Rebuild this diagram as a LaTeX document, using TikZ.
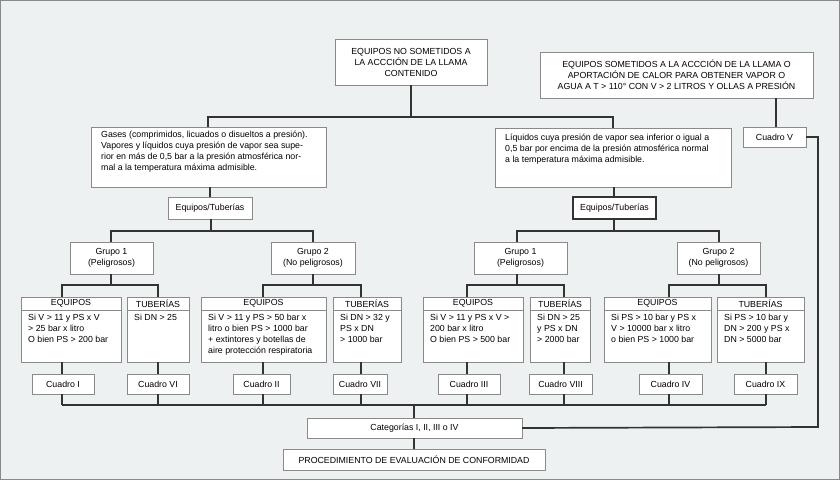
\documentclass[tikz,border=0pt]{standalone}
\usepackage{fontspec}
\setmainfont{Liberation Sans}
\begin{document}
\definecolor{bg}{HTML}{EEF1F1}
\definecolor{bd}{HTML}{8A8A8A}
\definecolor{ln}{HTML}{333333}
\newcommand{\bx}[6][]{\node[box,#1,minimum width={(#4-#2)*1pt},minimum height={(#5-#3)*1pt}] (#6) at ({(#2+#4)/2},{(#3+#5)/2}) {};}
\begin{tikzpicture}[x=1pt,y=-1pt,
  box/.style={draw=bd,fill=white,line width=0.8pt,inner sep=0pt,outer sep=0pt},
  txt/.style={font=\fontsize{8.8}{11}\selectfont,inner sep=0pt,align=center},
  ltxt/.style={font=\fontsize{8.8}{11}\selectfont,inner sep=0pt,align=left,anchor=north west},
  con/.style={draw=ln,line width=1.7pt}]
\path[fill=bg,draw=bd,line width=0.8pt] (0.5,0.5) rectangle (839.5,479.5);
\useasboundingbox (0,0) rectangle (840,480);
% top boxes
\bx{335}{39}{487}{85}{top}
\node[txt] (topt) at (top) {EQUIPOS NO SOMETIDOS A\\LA ACCCIÓN DE LA LLAMA\\CONTENIDO};
\bx{540}{52}{813}{98}{rtop}
\node[txt] (rtopt) at (rtop) {EQUIPOS SOMETIDOS A LA ACCCIÓN DE LA LLAMA O\\APORTACIÓN DE CALOR PARA OBTENER VAPOR O\\AGUA A T > 110° CON V > 2 LITROS Y OLLAS A PRESIÓN};
\bx{743}{127}{806}{147}{c5}
\node[txt] (c5t) at (c5) {Cuadro V};
\bx{91}{127}{326}{187}{gas}
\node[ltxt] (gast) at (101,131) {Gases (comprimidos, licuados o disueltos a presión).\\Vapores y líquidos cuya presión de vapor sea supe-\\rior en más de 0,5 bar a la presión atmosférica nor-\\mal a la temperatura máxima admisible.};
\bx{495}{128}{731}{187}{liq}
\node[ltxt] (liqt) at (505,134) {Líquidos cuya presión de vapor sea inferior o igual a\\0,5 bar por encima de la presión atmosférica normal\\a la temperatura máxima admisible.};
\bx{168}{197}{252}{219}{etl}
\node[txt] (etlt) at (etl) {Equipos/Tuberías};
\bx[draw=ln,line width=1.3pt]{573}{197}{656}{219}{etr}
\node[txt] (etrt) at (etr) {Equipos/Tuberías};
% grupos
\bx{70}{242}{153}{274}{g1l}\node[txt] at (g1l) {Grupo 1\\(Peligrosos)};
\bx{271}{242}{355}{274}{g2l}\node[txt] at (g2l) {Grupo 2\\(No peligrosos)};
\bx{474}{242}{567}{274}{g1r}\node[txt] at (g1r) {Grupo 1\\(Peligrosos)};
\bx{677}{242}{760}{274}{g2r}\node[txt] at (g2r) {Grupo 2\\(No peligrosos)};
% tables
\newcommand{\cell}[6]{\bx{#1}{297}{#2}{310}{#3h}\node[txt] at (#3h) {#4};
 \bx{#1}{310}{#2}{362}{#3b}\node[ltxt] (#3t) at ({#1+7},314) {#5};
 \coordinate (#3c) at (#6,297);}
\cell{21}{121}{e1}{EQUIPOS}{Si V > 11 y PS x V\\> 25 bar x litro\\O bien PS > 200 bar}{62}
\cell{127}{189}{t1}{TUBERÍAS}{Si DN > 25}{158}
\cell{201}{326}{e2}{EQUIPOS}{Si V > 11 y PS > 50 bar x\\litro o bien PS > 1000 bar\\+ extintores y botellas de\\aire protección respiratoria}{263}
\cell{333}{401}{t2}{TUBERÍAS}{Si DN > 32 y\\PS x DN\\> 1000 bar}{361}
\cell{423}{523}{e3}{EQUIPOS}{Si V > 11 y PS x V >\\200 bar x litro\\O bien PS > 500 bar}{467}
\cell{530}{590}{t3}{TUBERÍAS}{Si DN > 25\\y PS x DN\\> 2000 bar}{564}
\cell{604}{711}{e4}{EQUIPOS}{Si PS > 10 bar y PS x\\V > 10000 bar x litro\\o bien PS > 1000 bar}{669}
\cell{717}{804}{t4}{TUBERÍAS}{Si PS > 10 bar y\\DN > 200 y PS x\\DN > 5000 bar}{766}
% cuadros
\newcommand{\cua}[4]{\bx{#1}{374}{#2}{394}{#3}\node[txt] at (#3) {#4};}
\cua{32}{94}{q1}{Cuadro I}
\cua{127}{189}{q6}{Cuadro VI}
\cua{233}{290}{q2}{Cuadro II}
\cua{333}{387}{q7}{Cuadro VII}
\cua{438}{500}{q3}{Cuadro III}
\cua{529}{592}{q8}{Cuadro VIII}
\cua{639}{702}{q4}{Cuadro IV}
\cua{734}{797}{q9}{Cuadro IX}
\bx{307}{418}{522}{438}{cat}\node[txt] at (cat) {Categorías I, II, III o IV};
\bx{283}{449}{545}{470}{proc}\node[txt] at (proc) {PROCEDIMIENTO DE EVALUACIÓN DE CONFORMIDAD};
% connectors
\draw[con] (top.south) -- (411,117) -| (gas.north -| 208,0);
\draw[con] (411,117) -| (liq.north -| 613,0);
\draw[con] (rtop.south -| 776,0) -- (c5.north -| 776,0);
\draw[con] (gas.south -| 210,0) -- (etl.north -| 210,0);
\draw[con] (liq.south -| 614,0) -- (etr.north -| 614,0);
\draw[con] (etl.south -| 211,0) -- (211,231);
\draw[con] (g1l.north -| 111,0) -- (111,231) -- (313,231) -- (g2l.north -| 313,0);
\draw[con] (etr.south -| 614,0) -- (614,231);
\draw[con] (g1r.north -| 517,0) -- (517,231) -- (719,231) -- (g2r.north -| 719,0);
% grupos to tables
\draw[con] (g1l.south -| 111,0) -- (111,285);
\draw[con] (e1c) -- (62,285) -- (158,285) -- (t1c);
\draw[con] (g2l.south -| 313,0) -- (313,285);
\draw[con] (e2c) -- (263,285) -- (361,285) -- (t2c);
\draw[con] (g1r.south -| 517,0) -- (517,285);
\draw[con] (e3c) -- (467,285) -- (564,285) -- (t3c);
\draw[con] (g2r.south -| 719,0) -- (719,285);
\draw[con] (e4c) -- (669,285) -- (766,285) -- (t4c);
% tables to cuadros
\foreach \a/\b/\x in {e1b/q1/62,t1b/q6/158,e2b/q2/263,t2b/q7/361,e3b/q3/467,t3b/q8/564,e4b/q4/669,t4b/q9/766}{
  \draw[con] (\a.south -| \x,0) -- (\b.north -| \x,0);
  \draw[con] (\b.south -| \x,0) -- (\x,405);}
\draw[con] (62,405) -- (766,405);
\draw[con] (414,405) -- (cat.north -| 414,0);
\draw[con] (cat.south -| 414,0) -- (proc.north -| 414,0);
\draw[con] (c5.east) -- (818,137) -- (818,427) -- (cat.east);
\end{tikzpicture}
\end{document}
